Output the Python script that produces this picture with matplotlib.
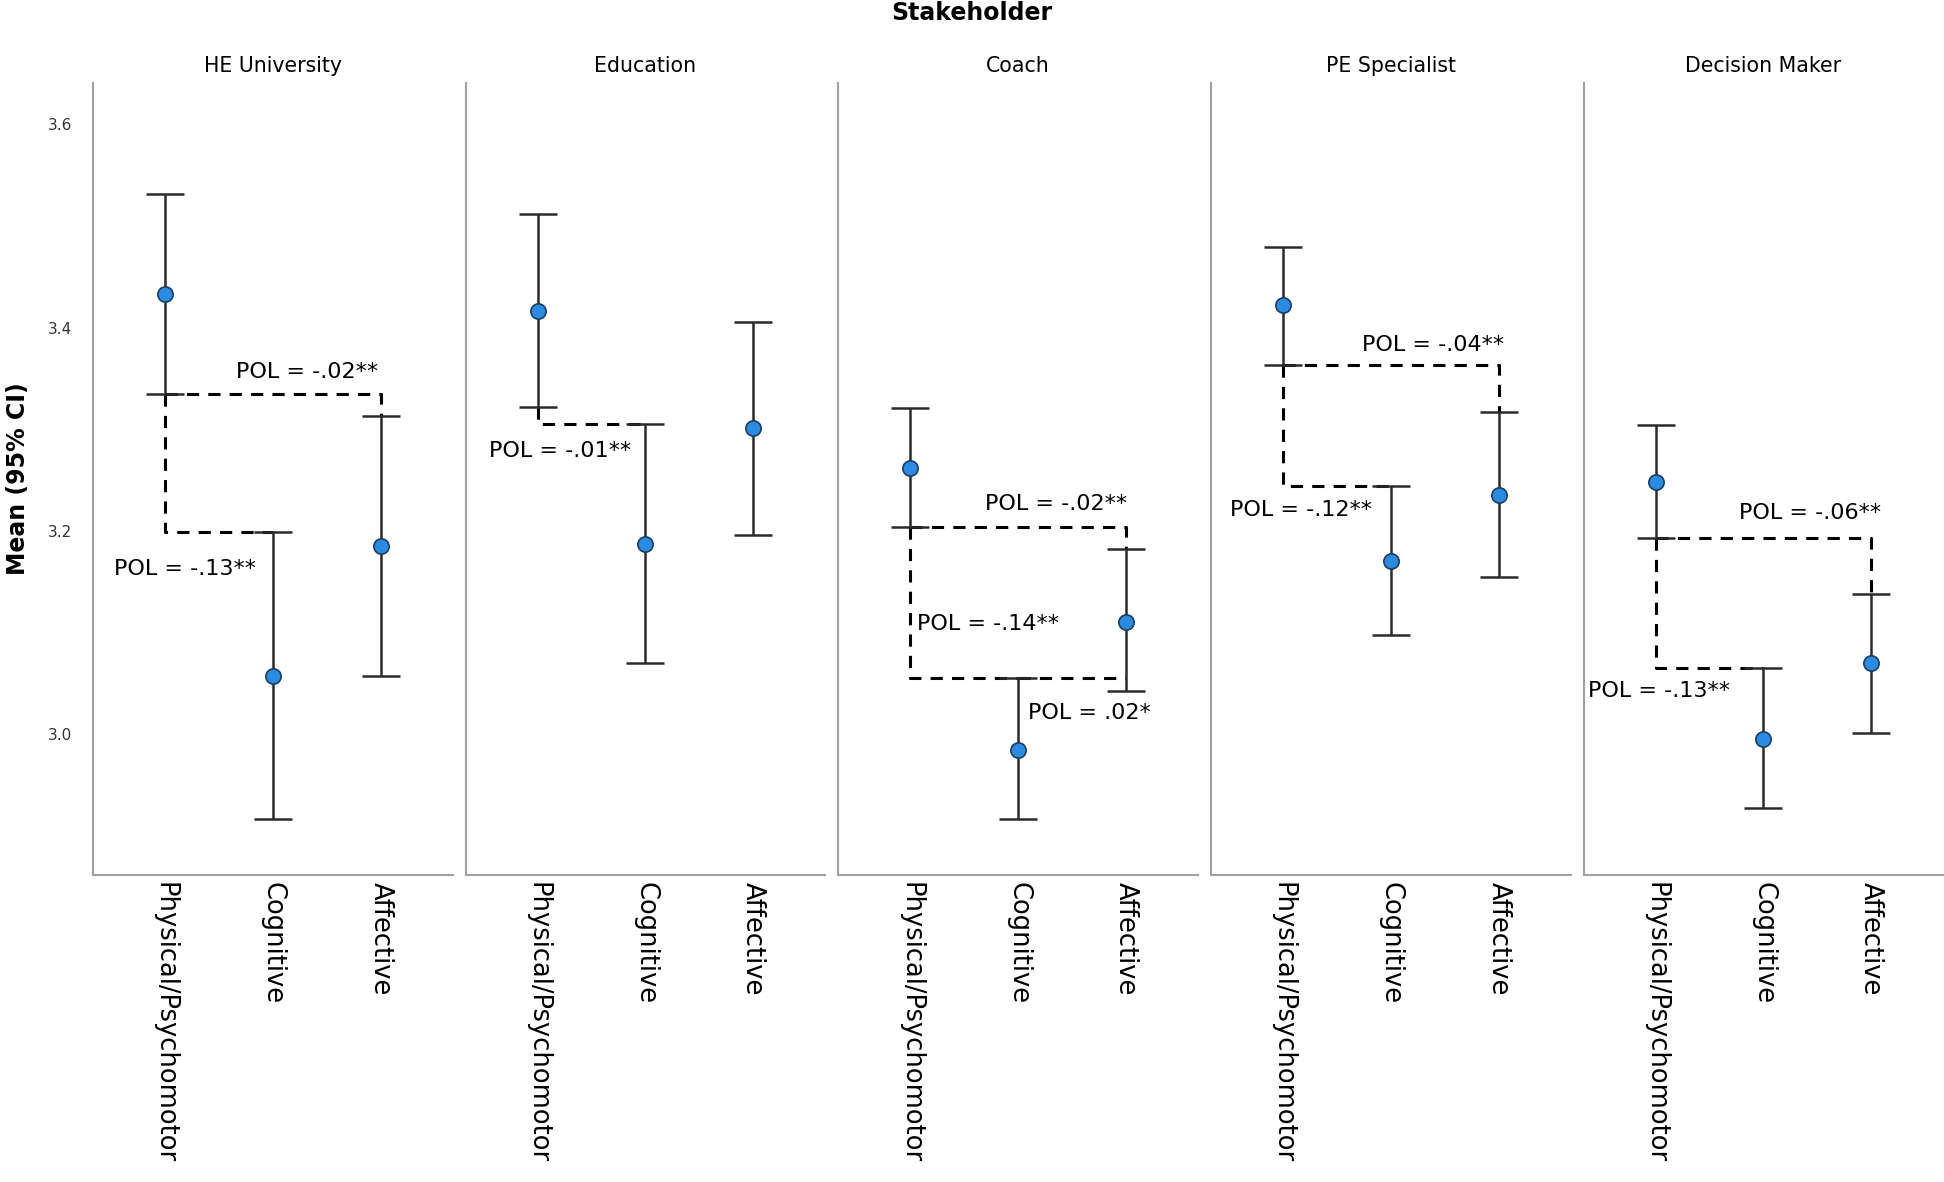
#!/usr/bin/env python3
"""Mean (95% CI) by learning domain, split by stakeholder group, with POL links."""

import numpy as np
import matplotlib.pyplot as plt

plt.rcParams['font.family'] = ['DejaVu Sans']

# ---- data -------------------------------------------------------------
stakeholders = ['HE University', 'Education', 'Coach', 'PE Specialist', 'Decision Maker']
domains = ['Physical/Psychomotor', 'Cognitive', 'Affective']

# rows = stakeholder, columns = domain
means = [
    [3.433, 3.057, 3.185],
    [3.416, 3.187, 3.301],
    [3.262, 2.985, 3.111],
    [3.422, 3.171, 3.235],
    [3.248, 2.995, 3.070],
]
ci_low = [
    [3.335, 2.917, 3.057],
    [3.322, 3.070, 3.196],
    [3.204, 2.917, 3.043],
    [3.363, 3.098, 3.155],
    [3.193, 2.928, 3.001],
]
ci_high = [
    [3.532, 3.199, 3.313],
    [3.512, 3.305, 3.406],
    [3.321, 3.055, 3.182],
    [3.479, 3.244, 3.317],
    [3.304, 3.065, 3.138],
]

# POL connectors: (stakeholder index, from domain, to domain, label)
pol_links = [
    (0, 0, 2, 'POL = -.02**'),
    (0, 0, 1, 'POL = -.13**'),
    (1, 0, 1, 'POL = -.01**'),
    (2, 0, 2, 'POL = -.02**'),
    (2, 0, 1, 'POL = -.14**'),
    (2, 1, 2, 'POL = .02*'),
    (3, 0, 2, 'POL = -.04**'),
    (3, 0, 1, 'POL = -.12**'),
    (4, 0, 2, 'POL = -.06**'),
    (4, 0, 1, 'POL = -.13**'),
]
# where each POL label sits (data coords), same order as pol_links
pol_label_pos = [
    (1.32, 3.356), (0.19, 3.163),
    (0.21, 3.279),
    (1.35, 3.227), (0.72, 3.109), (1.66, 3.021),
    (1.39, 3.383), (0.17, 3.221),
    (1.43, 3.218), (0.03, 3.043),
]

# ---- figure -----------------------------------------------------------
fig = plt.figure(figsize=(19.44, 11.82), dpi=100)

left0, bottom, width, height, step = 0.0478, 0.260, 0.185, 0.670, 0.1917
axes = []
for k in range(len(stakeholders)):
    ax = fig.add_axes([left0 + k * step, bottom, width, height])
    axes.append(ax)

x = np.arange(len(domains))
spine_col = '#a0a0a0'

for k, ax in enumerate(axes):
    m = np.array(means[k])
    lo = m - np.array(ci_low[k])
    hi = np.array(ci_high[k]) - m
    ax.errorbar(x, m, yerr=[lo, hi], fmt='none', ecolor='#2b2b2b',
                elinewidth=1.8, capsize=14, capthick=1.8, zorder=2)
    ax.plot(x, m, 'o', markersize=11, markerfacecolor='#2a8be0',
            markeredgecolor='#1d3d5c', markeredgewidth=1.2, zorder=3)

    ax.set_xlim(-0.667, 2.667)
    ax.set_ylim(2.862, 3.641)
    ax.set_yticks([3.0, 3.2, 3.4, 3.6])
    ax.set_xticks(x)
    ax.set_xticklabels(domains, rotation=270, fontsize=18.5, va='top', ha='center')
    ax.tick_params(axis='both', length=0)
    ax.tick_params(axis='x', pad=5)
    ax.tick_params(axis='y', labelsize=11, pad=15, colors='#333333')
    if k > 0:
        ax.tick_params(axis='y', labelleft=False)
    for side in ['top', 'right']:
        ax.spines[side].set_visible(False)
    for side in ['left', 'bottom']:
        ax.spines[side].set_color(spine_col)
        ax.spines[side].set_linewidth(1.5)
    ax.set_title(stakeholders[k], fontsize=14.8, pad=8)

# dashed POL connectors
for (k, i, j, label), (tx, ty) in zip(pol_links, pol_label_pos):
    ax = axes[k]
    if i == 0 and j == 2:
        # across at the lower CI of the first, then down to the upper CI of the last
        xs = [x[i], x[j], x[j]]
        ys = [ci_low[k][i], ci_low[k][i], ci_high[k][j]]
    elif i == 0:
        # down from the lower CI of the first, then across to the upper CI of the next
        xs = [x[i], x[i], x[j]]
        ys = [ci_low[k][i], ci_high[k][j], ci_high[k][j]]
    else:
        xs = [x[i], x[j]]
        ys = [ci_high[k][i], ci_high[k][i]]
    ax.plot(xs, ys, color='black', linestyle=(0, (4, 3)), linewidth=2.2, zorder=1)
    ax.text(tx, ty, label, fontsize=16, ha='center', va='center', zorder=4)

axes[0].set_ylabel('Mean (95% CI)', fontsize=17, fontweight='bold', labelpad=13)
fig.text(0.5, 0.989, 'Stakeholder', ha='center', va='center', fontsize=17, fontweight='bold')

plt.savefig('out.png', dpi=100)
